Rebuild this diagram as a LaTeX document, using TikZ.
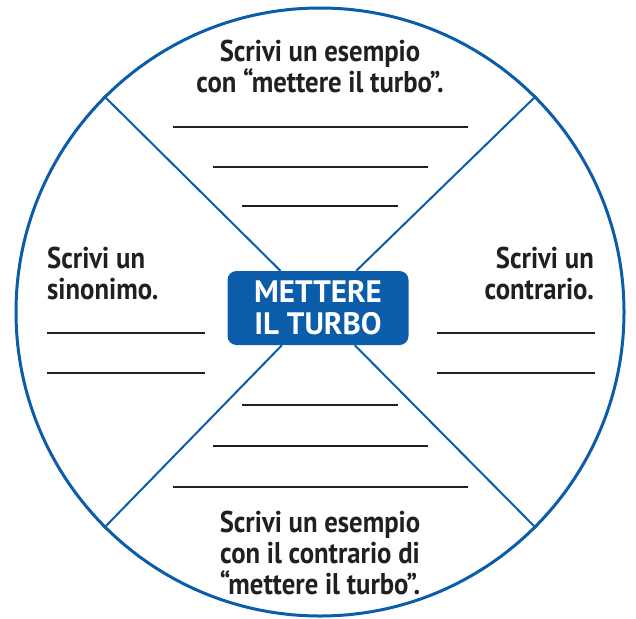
\documentclass[tikz,border=0pt]{standalone}
\usepackage{fontspec}
\setmainfont[FakeStretch=0.89]{PT Sans}
\newfontfamily\boxfont{PT Sans}
\definecolor{ringblue}{HTML}{0B5CA9}
\definecolor{inkgray}{HTML}{231F20}
\tikzset{
  prompt/.style = {text = inkgray, font = \fontsize{30}{31}\selectfont\bfseries, inner sep = 0pt},
  blank/.style = {draw = inkgray, line width = 2.4pt},
  spoke/.style = {draw = ringblue, line width = 2pt}
}
\begin{document}
\begin{tikzpicture}[x = 1pt, y = -1pt]
\useasboundingbox (0,0) rectangle (636,618);
\node [circle, draw = ringblue, line width = 3pt, minimum size = 608pt, inner sep = 0pt] (ring) at (320,312) {};
\node [rounded corners = 9pt, fill = ringblue, minimum width = 181pt, minimum height = 74pt, text = white,
       align = center, font = \boxfont\fontsize{31}{32}\selectfont\bfseries] (turbo) at (318,308) {METTERE\\IL TURBO};
\draw [spoke] (ring.north west) -- (turbo);
\draw [spoke] (ring.north east) -- (turbo);
\draw [spoke] (ring.south west) -- (turbo);
\draw [spoke] (ring.south east) -- (turbo);
% top sector
\node [prompt, align = center] (esempio) at (320,66) {Scrivi un esempio\\con “mettere il turbo”.};
\draw [blank] (173,127) -- (468,127);
\draw [blank] (213,167) -- (428,167);
\draw [blank] (242,206) -- (398,206);
% bottom sector
\draw [blank] (242,405) -- (398,405);
\draw [blank] (213,446) -- (428,446);
\draw [blank] (173,487) -- (468,487);
\node [prompt, align = center] (opposto) at (320,553) {Scrivi un esempio\\con il contrario di\\“mettere il turbo”.};
% left sector
\node [prompt, align = left, anchor = west] (sinonimo) at (47,273) {Scrivi un\\sinonimo.};
\draw [blank] (47,333) -- (205,333);
\draw [blank] (47,373) -- (205,373);
% right sector
\node [prompt, align = right, anchor = east] (contrario) at (594,273) {Scrivi un\\contrario.};
\draw [blank] (437,333) -- (595,333);
\draw [blank] (437,373) -- (595,373);
\end{tikzpicture}
\end{document}
